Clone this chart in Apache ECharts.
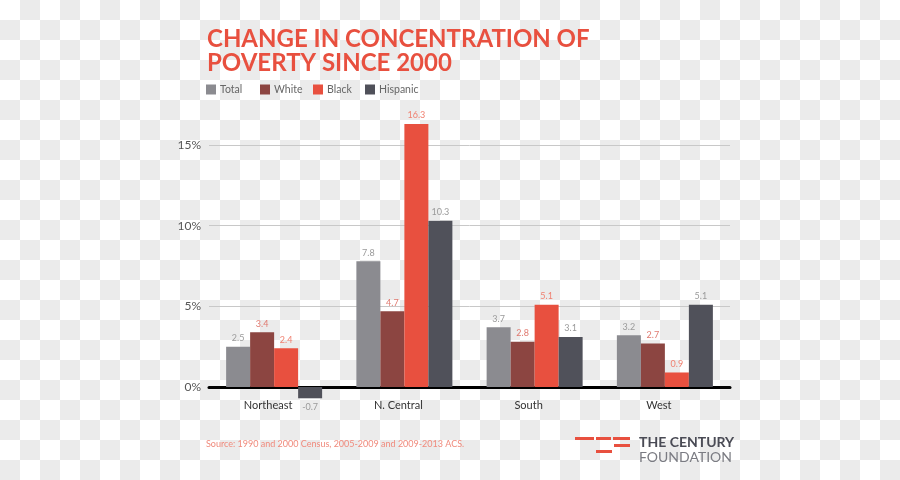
<!DOCTYPE html>
<html>
<head>
<meta charset="utf-8">
<script src="https://cdn.jsdelivr.net/npm/echarts@6/dist/echarts.min.js"></script>
<style>
html,body{margin:0;padding:0;}
body{background-color:#fff;background-image:conic-gradient(#ebebeb 0 25%,#fff 0 50%,#ebebeb 0 75%,#fff 0);background-size:40px 40px;}
#chart{width:900px;height:480px;}
</style>
</head>
<body>
<div id="chart"></div>
<script>
const categories = ['Northeast', 'N. Central', 'South', 'West'];
const seriesNames = ['Total', 'White', 'Black', 'Hispanic'];
const totalValues = [2.5, 7.8, 3.7, 3.2];
const whiteValues = [3.4, 4.7, 2.8, 2.7];
const blackValues = [2.4, 16.3, 5.1, 0.9];
const hispanicValues = [-0.7, 10.3, 3.1, 5.1];
const yTicks = [0, 5, 10, 15];
const titleText = 'CHANGE IN CONCENTRATION OF\nPOVERTY SINCE 2000';
const sourceText = 'Source: 1990 and 2000 Census, 2005-2009 and 2009-2013 ACS.';

const chart = echarts.init(document.getElementById('chart'), null, {renderer: 'canvas'});
const FONT = 'Lato, "Open Sans", sans-serif';

function barSeries(name, values, color, labelColor) {
  return {
    name: name,
    type: 'bar',
    data: values.map(v => v < 0 ? {value: v, label: {position: 'bottom'}} : v),
    barWidth: 24,
    barGap: '0%',
    clip: false,
    itemStyle: {color: color},
    label: {
      show: true,
      position: 'top',
      color: labelColor,
      fontSize: 9,
      fontFamily: FONT,
      distance: 4,
      formatter: function (p) { return Number(p.value).toFixed(1); }
    }
  };
}

const series = [
  barSeries(seriesNames[0], totalValues, '#8b8b90', '#9a9a9a'),
  barSeries(seriesNames[1], whiteValues, '#8c4541', '#e07a70'),
  barSeries(seriesNames[2], blackValues, '#e8503f', '#f08070'),
  barSeries(seriesNames[3], hispanicValues, '#50515a', '#9a9a9a')
];

const legendLefts = [206, 260, 313, 365];
const legends = seriesNames.map((n, i) => ({
  left: legendLefts[i],
  top: 84,
  padding: 0,
  itemWidth: 10,
  itemHeight: 10,
  icon: 'rect',
  textStyle: {color: '#666', fontSize: 10.5, fontFamily: FONT, padding: [0, 0, 0, -1]},
  data: [n]
}));

chart.setOption({
  backgroundColor: 'transparent',
  animation: false,
  title: {
    text: titleText,
    left: 202,
    top: 22,
    textStyle: {
      color: '#e8503f',
      fontFamily: FONT,
      fontWeight: 'bold',
      fontSize: 24,
      lineHeight: 24
    }
  },
  legend: legends,
  grid: {left: 209, right: 170, top: 145, bottom: 93},
  xAxis: {
    type: 'category',
    data: categories,
    axisLine: {onZero: true, lineStyle: {color: '#000', width: 3}},
    axisTick: {show: false},
    axisLabel: {color: '#333', fontSize: 11, fontFamily: FONT, margin: 13, padding: [0, 12, 0, 0]}
  },
  yAxis: {
    type: 'value',
    min: 0,
    max: 15,
    interval: 5,
    axisLine: {show: false},
    axisTick: {show: false},
    axisLabel: {
      color: '#555', fontSize: 12, fontFamily: FONT, margin: 8,
      formatter: function (v) { return yTicks.indexOf(v) >= 0 ? v + '%' : ''; }
    },
    splitLine: {lineStyle: {color: '#c8c8c8', width: 1}}
  },
  series: series,
  graphic: [
    {type: 'text', left: 206, top: 440, style: {text: sourceText, fill: '#f08a7c', fontSize: 9, fontFamily: FONT}},
    {type: 'rect', shape: {x: 575, y: 437, width: 19, height: 3}, style: {fill: '#e8503f'}},
    {type: 'rect', shape: {x: 596, y: 437, width: 15, height: 3}, style: {fill: '#e8503f'}},
    {type: 'rect', shape: {x: 613, y: 437, width: 17, height: 3}, style: {fill: '#e8503f'}},
    {type: 'rect', shape: {x: 614, y: 444, width: 16, height: 3}, style: {fill: '#e8503f'}},
    {type: 'rect', shape: {x: 596, y: 450, width: 16, height: 3}, style: {fill: '#e8503f'}},
    {type: 'text', left: 639, top: 435, style: {text: 'THE CENTURY', fill: '#4a4b55', fontSize: 14, fontWeight: 'bold', fontFamily: FONT}},
    {type: 'text', left: 639, top: 450, style: {text: 'FOUNDATION', fill: '#7a7b82', fontSize: 14, fontFamily: FONT}}
  ]
});
</script>
</body>
</html>
